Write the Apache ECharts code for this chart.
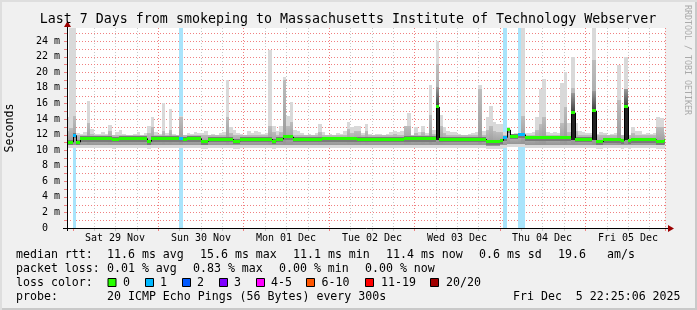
<!DOCTYPE html>
<html>
<head>
<meta charset="utf-8">
<script src="https://cdn.jsdelivr.net/npm/echarts@6/dist/echarts.min.js"></script>
<style>
html,body{margin:0;padding:0;background:#f0f0f0;}
#chart{width:697px;height:310px;}
</style>
</head>
<body>
<div id="chart"></div>
<script>
// ---------------- data ----------------
const HOUR = 3600 * 1000;
const bucketStart = new Date(2025, 10, 28, 22, 0, 0).getTime();   // first hourly bucket
const graphStart = new Date(2025, 10, 28, 22, 25, 6).getTime();
const graphEnd = new Date(2025, 11, 5, 22, 25, 6).getTime();
const yMax = 25.67;

// median rtt per hour (ms)
const median = [
 11.0,11.0,11.9,11.0,11.5,11.5,11.5,11.5,11.5,11.5,11.5,11.5,
 11.5,11.4,11.4,11.5,11.5,11.5,11.5,11.5,11.5,11.5,11.5,11.1,
 11.5,11.5,11.5,11.5,11.5,11.5,11.5,11.5,11.45,11.4,11.5,11.5,
 11.5,11.5,11.1,11.1,11.4,11.4,11.4,11.4,11.4,11.4,11.4,11.15,
 11.15,11.4,11.4,11.4,11.4,11.4,11.4,11.4,11.4,11.4,11.15,11.4,
 11.4,11.7,11.7,11.7,11.4,11.4,11.4,11.4,11.4,11.4,11.4,11.4,
 11.45,11.45,11.45,11.45,11.45,11.45,11.45,11.45,11.45,11.45,11.4,11.4,
 11.4,11.4,11.4,11.4,11.4,11.4,11.4,11.4,11.4,11.4,11.4,11.5,
 11.5,11.5,11.5,11.5,11.5,11.5,11.5,11.5,15.55,11.4,11.4,11.4,
 11.4,11.4,11.4,11.4,11.4,11.4,11.4,11.4,11.4,11.4,11.05,11.05,
 11.05,11.05,11.2,11.6,12.6,11.8,11.8,12.0,12.0,11.6,11.6,11.6,
 11.6,11.6,11.6,11.6,11.6,11.6,11.6,11.6,11.6,11.6,14.8,11.4,
 11.4,11.4,11.4,11.4,15.05,11.05,11.05,11.35,11.35,11.35,11.35,11.35,
 11.2,15.55,11.2,11.35,11.35,11.35,11.35,11.35,11.35,11.35,11.1,11.1,
 11.2
];
// fastest ping per hour (ms)
const pingMin = [
 10.3,10.3,10.3,10.3,10.3,10.3,10.3,10.3,10.3,10.3,10.3,10.3,
 10.3,10.2,10.3,10.3,10.3,10.3,10.3,10.3,10.3,10.3,10.3,10.2,
 10.3,10.3,10.3,10.3,10.3,10.3,10.3,10.3,10.3,10.3,10.3,10.3,
 10.3,10.3,10.2,10.2,10.3,10.3,10.3,10.3,10.3,10.3,10.3,10.2,
 10.2,10.3,10.3,10.3,10.3,10.3,10.3,10.3,10.3,10.3,10.2,10.3,
 10.3,10.3,10.3,10.3,10.3,10.3,10.3,10.3,10.3,10.3,10.3,10.3,
 10.3,10.3,10.3,10.3,10.3,10.3,10.3,10.3,10.3,10.3,10.3,10.3,
 10.3,10.3,10.3,10.3,10.3,10.3,10.3,10.3,10.3,10.3,10.3,10.3,
 10.3,10.3,10.3,10.3,10.3,10.3,10.3,10.3,10.3,10.3,10.3,10.3,
 10.3,10.3,10.3,10.3,10.3,10.3,10.3,10.3,10.3,10.3,10.1,10.1,
 10.1,10.1,10.2,10.3,10.4,10.4,10.4,10.4,10.4,10.3,10.3,10.3,
 10.3,10.3,10.3,10.3,10.3,10.3,10.3,10.3,10.3,10.3,10.3,10.3,
 10.3,10.3,10.3,10.3,10.3,10.2,10.2,10.3,10.3,10.3,10.3,10.3,
 10.2,10.3,10.2,10.3,10.3,10.3,10.3,10.3,10.3,10.3,10.2,10.2,
 10.2
];
// slowest ping per hour (ms)
const pingMax = [
 14.3,25.7,25.7,12.2,12.1,12.3,16.3,12.7,12.1,12.1,12.3,12.1,
 13.2,12.0,12.3,12.6,12.1,12.0,11.9,12.1,12.3,12.0,12.2,13.1,
 14.2,12.3,12.1,16.1,12.2,15.3,12.1,12.0,14.4,12.0,12.2,12.1,
 12.3,12.2,12.2,12.4,12.0,12.1,12.0,12.2,12.3,19.0,12.9,12.6,
 12.2,12.1,12.0,12.4,12.2,12.5,12.3,12.1,12.2,22.85,13.1,12.4,
 13.1,19.4,14.4,16.2,12.6,12.4,12.2,12.0,12.1,12.0,12.2,13.4,
 12.3,12.0,12.1,12.0,12.2,12.1,12.4,13.6,12.9,13.1,13.1,12.2,
 13.3,12.1,12.0,12.1,12.1,12.0,12.1,12.3,12.5,12.3,12.4,13.1,
 14.7,12.0,12.9,12.3,13.1,12.2,18.3,12.6,24.0,14.5,12.9,12.4,
 12.3,12.3,12.1,12.0,12.0,12.1,12.2,12.3,18.3,12.4,14.2,15.7,
 13.6,13.3,13.4,12.3,12.9,12.1,12.2,12.3,25.7,12.2,12.2,12.3,
 14.2,17.9,19.1,12.3,12.2,12.3,12.2,18.65,20.0,13.5,22.0,13.5,
 12.4,12.3,12.2,12.2,25.7,12.1,12.3,12.2,12.0,12.1,12.2,20.9,
 12.0,21.9,12.0,12.9,12.4,12.4,12.1,12.2,12.1,12.2,14.2,14.1,
 12.3
];
// upper edge of the denser smoke per hour (ms)
const smokeUpper = [
 12.4,12.8,14.4,11.9,11.95,11.95,13.5,12.1,11.95,11.95,11.95,11.95,
 12.4,11.9,11.95,12.0,11.95,11.9,11.9,11.95,11.95,11.9,11.95,12.2,
 12.9,11.95,11.95,12.5,11.95,12.6,11.95,11.9,14.3,11.9,11.95,11.95,
 11.95,11.95,11.9,12.0,11.9,11.95,11.9,11.95,11.95,14.2,12.2,12.0,
 11.9,11.9,11.9,12.0,11.95,12.0,11.95,11.9,11.95,13.1,12.3,11.95,
 12.3,19.0,13.1,13.6,12.0,11.95,11.9,11.9,11.9,11.9,11.95,12.3,
 11.95,11.9,11.9,11.9,11.95,11.9,12.0,12.7,12.2,12.4,12.4,11.95,
 12.4,11.9,11.9,11.95,11.95,11.9,11.95,12.0,12.1,12.0,12.0,13.1,
 13.1,11.9,12.2,11.95,12.3,11.95,14.5,12.1,21.0,13.1,12.2,12.0,
 11.95,11.95,11.9,11.9,11.9,11.9,11.95,11.95,17.8,12.0,12.6,13.1,
 12.4,12.3,12.3,12.0,12.7,12.0,12.0,12.2,14.4,11.95,11.95,12.0,
 12.6,13.4,14.2,11.95,11.95,11.95,11.95,13.5,15.5,12.3,18.0,12.4,
 12.0,11.95,11.95,11.95,21.6,11.9,11.95,11.9,11.9,11.9,11.9,16.4,
 11.9,17.8,11.9,12.2,12.0,12.0,11.9,11.9,11.9,11.9,12.9,12.9,
 12.0
];
// lost pings per hour (of 20)
const lostPings = [
 0,0,1,0,0,0,0,0,0,0,0,0, 0,0,0,0,0,0,0,0,0,0,0,0,
 0,0,0,0,0,0,0,0,1,0,0,0, 0,0,0,0,0,0,0,0,0,0,0,0,
 0,0,0,0,0,0,0,0,0,0,0,0, 0,0,0,0,0,0,0,0,0,0,0,0,
 0,0,0,0,0,0,0,0,0,0,0,0, 0,0,0,0,0,0,0,0,0,0,0,0,
 0,0,0,0,0,0,0,0,0,0,0,0, 0,0,0,0,0,0,0,0,0,0,0,0,
 0,0,0,1,0,0,0,1,1,0,0,0, 0,0,0,0,0,0,0,0,0,0,0,0,
 0,0,0,0,0,0,0,0,0,0,0,0, 0,0,0,0,0,0,0,0,0,0,0,0,
 0
];
const dayLabels = ['Sat 29 Nov','Sun 30 Nov','Mon 01 Dec','Tue 02 Dec','Wed 03 Dec','Thu 04 Dec','Fri 05 Dec'];
const firstMidnight = new Date(2025, 10, 29, 0, 0, 0).getTime();
const lossColors = ['#26ff00','#00b8ff','#0059ff','#7e00ff','#ff00ff','#ff5500','#ff0000','#a10000'];
const lossLabels = ['0','1','2','3','4-5','6-10','11-19','20/20'];
const lossBgColor = '#a9e4fb';

const statsLine1 = [['median rtt:',16],['11.6 ms avg',107],['15.6 ms max',200],['11.1 ms min',293],['11.4 ms now',386],['0.6 ms sd',479],['19.6',558],['am/s',607]];
const statsLine2 = [['packet loss:',16],['0.01 % avg',107],['0.83 % max',193],['0.00 % min',279],['0.00 % now',365]];
const probeLine = [['probe:',16],['20 ICMP Echo Pings (56 Bytes) every 300s',107],['Fri Dec  5 22:25:06 2025',513]];
const lossLegendPos = [[108,123],[145.5,160],[182.5,197],[219.5,234],[256.5,271],[306.5,321.5],[365.5,381],[430.5,446]];

// ---------------- build tables ----------------
const smokeData = median.map((m, i) => [bucketStart + i * HOUR, bucketStart + (i + 1) * HOUR,
  pingMin[i], pingMax[i], smokeUpper[i], m, lostPings[i], i > 0 ? median[i - 1] : m]);
const lossData = [];
lostPings.forEach((l, i) => { if (l > 0) lossData.push([bucketStart + i * HOUR, bucketStart + (i + 1) * HOUR, 0, l]); });
const vGrid = [];
for (let t = firstMidnight; t < graphEnd; t += 6 * HOUR) {
  vGrid.push([t, new Date(t).getHours() === 0 ? 1 : 0]);
}
vGrid.push([graphEnd, 1]);
const hGrid = [];
for (let v = 1; v <= 25; v++) hGrid.push([graphStart, v]);
const labelData = dayLabels.map((d, i) => [firstMidnight + i * 24 * HOUR + 12 * HOUR, 0, d]);

const MONO = 'DejaVu Sans Mono';
const lossColorOf = n => n <= 0 ? lossColors[0] : n === 1 ? lossColors[1] : n === 2 ? lossColors[2] : n === 3 ? lossColors[3] : n <= 5 ? lossColors[4] : n <= 10 ? lossColors[5] : n <= 19 ? lossColors[6] : lossColors[7];

function renderSmoke(params, api) {
  const cs = params.coordSys;
  const left = cs.x, right = cs.x + cs.width, top = cs.y, bottom = cs.y + cs.height;
  const x0 = Math.round(api.coord([api.value(0), 0])[0]);
  const x1 = Math.round(api.coord([api.value(1), 0])[0]);
  const cx0 = Math.max(x0, left), cx1 = Math.min(x1, right);
  if (cx1 <= cx0) return null;
  const w = cx1 - cx0;
  const Y = v => Math.max(top, Math.min(bottom, api.coord([api.value(0), v])[1]));
  const lo = api.value(2), hi = api.value(3), up = api.value(4), md = api.value(5), ls = api.value(6), prev = api.value(7);
  const ch = [];
  const band = (a, b, fill) => {
    const ya = Math.round(Y(a)), yb = Math.round(Y(b));
    if (ya - yb > 0) ch.push({ type: 'rect', shape: { x: cx0, y: yb, width: w, height: ya - yb }, style: { fill } });
  };
  band(lo, hi, '#d9d9d9');
  band(lo + 0.4, up, new echarts.graphic.LinearGradient(0, 0, 0, 1, [{ offset: 0, color: '#bdbdbd' }, { offset: 1, color: '#969696' }]));
  if (md > 13) {
    band(md, Math.min(up, md + 2.5), new echarts.graphic.LinearGradient(0, 0, 0, 1, [{ offset: 0, color: '#9a9a9a' }, { offset: 1, color: '#3c3c3c' }]));
    band(11.25, md, '#222222');
  } else {
    band(md - 0.4, md + 0.25, '#7a7a7a');
  }
  if (x0 >= left && Math.abs(prev - md) > 0.2) {
    ch.push({ type: 'line', shape: { x1: x0 + 0.5, y1: Y(prev), x2: x0 + 0.5, y2: Y(md) }, style: { stroke: '#000', lineWidth: 1 } });
  }
  const ym = Math.round(Y(md) - 1.5);
  ch.push({ type: 'rect', shape: { x: cx0, y: ym, width: w, height: 3 }, style: { fill: lossColorOf(ls) } });
  return { type: 'group', children: ch };
}
function renderLossBg(params, api) {
  const cs = params.coordSys;
  const x0 = Math.max(cs.x, Math.round(api.coord([api.value(0), 0])[0]));
  const x1 = Math.min(cs.x + cs.width, Math.round(api.coord([api.value(1), 0])[0]));
  if (x1 <= x0) return null;
  return { type: 'rect', shape: { x: x0, y: cs.y, width: x1 - x0, height: cs.height }, style: { fill: lossBgColor } };
}
function renderVGrid(params, api) {
  const cs = params.coordSys;
  const x = Math.round(api.coord([api.value(0), 0])[0]) + 0.5;
  const major = api.value(1) === 1;
  const c = major ? '#f08080' : '#c8c8c8';
  return { type: 'group', children: [
    { type: 'line', shape: { x1: x, y1: cs.y, x2: x, y2: cs.y + cs.height }, style: { stroke: c, lineWidth: 1, lineDash: [1, 2] } },
    { type: 'line', shape: { x1: x, y1: cs.y + cs.height, x2: x, y2: cs.y + cs.height + 3 }, style: { stroke: c, lineWidth: 1 } }
  ] };
}
function renderHGrid(params, api) {
  const cs = params.coordSys;
  const y = Math.round(api.coord([api.value(0), api.value(1)])[1]) + 0.5;
  return { type: 'group', children: [
    { type: 'line', shape: { x1: cs.x, y1: y, x2: cs.x + cs.width, y2: y }, style: { stroke: '#f08080', lineWidth: 1, lineDash: [1, 2] } },
    { type: 'line', shape: { x1: cs.x - 3, y1: y, x2: cs.x, y2: y }, style: { stroke: '#f08080', lineWidth: 1 } }
  ] };
}
function renderDayLabel(params, api) {
  const p = api.coord([api.value(0), 0]);
  return { type: 'text', x: Math.round(p[0]), y: p[1] + 10, style: { text: labelData[params.dataIndex][2], font: '10px "' + MONO + '"', fill: '#000', align: 'center', verticalAlign: 'middle' } };
}

// ---------------- graphic ----------------
const graphic = [];
const txt = (t, x, y) => ({ type: 'text', x, y, style: { text: t, font: '11.6px "' + MONO + '"', fill: '#000', align: 'left', verticalAlign: 'middle' }, z: 100 });
graphic.push({ type: 'text', x: 348, y: 19.5, style: { text: 'Last 7 Days from smokeping to Massachusetts Institute of Technology Webserver', font: '13.3px "' + MONO + '"', fill: '#000', align: 'center', verticalAlign: 'middle' }, z: 100 });
graphic.push({ type: 'text', x: 10, y: 128, rotation: Math.PI / 2, style: { text: 'Seconds', font: '11.6px "' + MONO + '"', fill: '#000', align: 'center', verticalAlign: 'middle' } });
graphic.push({ type: 'text', x: 687, y: 60, rotation: -Math.PI / 2, style: { text: 'RRDTOOL / TOBI OETIKER', font: '8.3px "' + MONO + '"', fill: '#aaaaaa', align: 'center', verticalAlign: 'middle' } });
statsLine1.forEach(([t, x]) => graphic.push(txt(t, x, 254.5)));
statsLine2.forEach(([t, x]) => graphic.push(txt(t, x, 268.5)));
graphic.push(txt('loss color:', 16, 282.5));
lossLabels.forEach((l, i) => {
  const [bx, tx] = lossLegendPos[i];
  graphic.push({ type: 'rect', shape: { x: bx, y: 278.5, width: 8, height: 8 }, style: { fill: lossColors[i], stroke: '#000', lineWidth: 1 }, z: 100 });
  graphic.push(txt(l, tx, 282.5));
});
probeLine.forEach(([t, x]) => graphic.push(txt(t, x, 296.5)));
// axis lines with arrows
graphic.push({ type: 'line', shape: { x1: 63, y1: 228.5, x2: 670, y2: 228.5 }, style: { stroke: '#000', lineWidth: 1 }, z: 90 });
graphic.push({ type: 'line', shape: { x1: 67.5, y1: 231, x2: 67.5, y2: 25 }, style: { stroke: '#000', lineWidth: 1 }, z: 90 });
graphic.push({ type: 'polygon', shape: { points: [[668, 225], [674, 228.5], [668, 232]] }, style: { fill: '#9a0000' }, z: 91 });
graphic.push({ type: 'polygon', shape: { points: [[64, 27], [67.5, 21], [71, 27]] }, style: { fill: '#9a0000' }, z: 91 });
// frame
graphic.push({ type: 'rect', shape: { x: 695, y: 0, width: 2, height: 310 }, style: { fill: '#c9c9c9' }, z: 1 });
graphic.push({ type: 'rect', shape: { x: 0, y: 308, width: 697, height: 2 }, style: { fill: '#c9c9c9' }, z: 1 });
graphic.push({ type: 'rect', shape: { x: 0, y: 0, width: 697, height: 2 }, style: { fill: '#dedede' }, z: 1 });
graphic.push({ type: 'rect', shape: { x: 0, y: 0, width: 2, height: 310 }, style: { fill: '#dedede' }, z: 1 });

const chart = echarts.init(document.getElementById('chart'), null, { renderer: 'canvas' });
chart.setOption({
  animation: false,
  backgroundColor: '#f0f0f0',
  grid: { left: 67, right: 32, top: 28, bottom: 82, containLabel: false, show: true, backgroundColor: '#ffffff', borderWidth: 0 },
  xAxis: { type: 'time', min: graphStart, max: graphEnd, axisLabel: { show: false }, axisTick: { show: false }, axisLine: { show: false }, splitLine: { show: false } },
  yAxis: { type: 'value', min: 0, max: yMax, interval: 2,
    axisLabel: { showMaxLabel: false, margin: 7, fontFamily: MONO, fontSize: 10, color: '#000', formatter: v => v === 0 ? '0  ' : v + ' m' },
    axisTick: { show: false }, axisLine: { show: false }, splitLine: { show: false } },
  graphic: graphic,
  series: [
    { type: 'custom', name: 'vgrid', renderItem: renderVGrid, data: vGrid, encode: { x: 0, y: 1 }, z: 1, silent: true },
    { type: 'custom', name: 'hgrid', renderItem: renderHGrid, data: hGrid, encode: { x: 0, y: 1 }, z: 1, silent: true },
    { type: 'custom', name: 'lossbg', renderItem: renderLossBg, data: lossData, encode: { x: [0, 1], y: 2 }, z: 2, silent: true },
    { type: 'custom', name: 'smoke', renderItem: renderSmoke, data: smokeData, encode: { x: [0, 1], y: [2, 3] }, z: 3, silent: true },
    { type: 'custom', name: 'daylabels', renderItem: renderDayLabel, data: labelData.map(d => [d[0], d[1]]), encode: { x: 0, y: 1 }, z: 4, silent: true, clip: false }
  ]
});
</script>
</body>
</html>
